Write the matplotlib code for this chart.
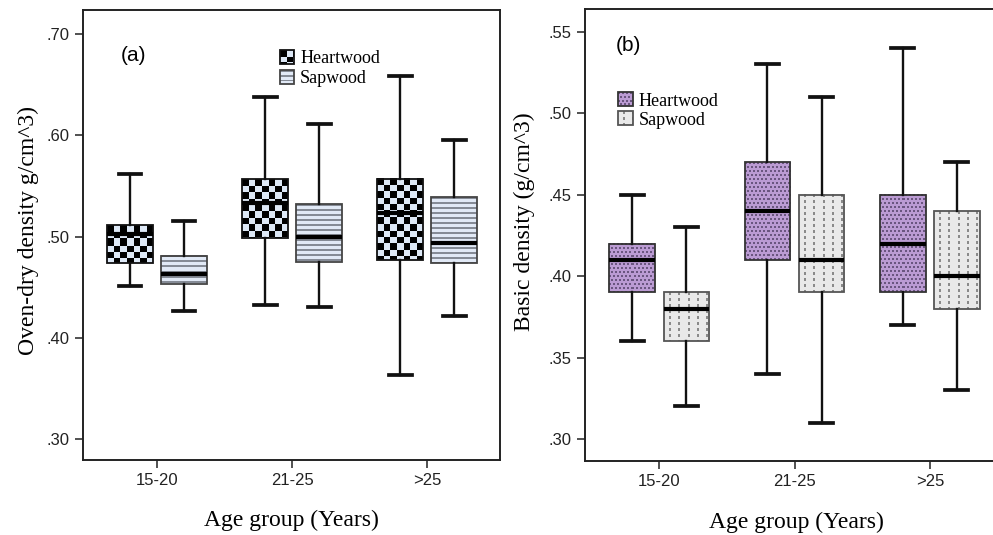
import numpy as np
import matplotlib
matplotlib.use("Agg")
import matplotlib.pyplot as plt
from matplotlib.patches import Rectangle, Patch
from matplotlib.legend_handler import HandlerBase
from matplotlib.colors import to_rgb

# ---------------------------------------------------------------- data
groups = ["15-20", "21-25", ">25"]
series = ["Heartwood", "Sapwood"]

# (a) oven-dry density, g/cm^3
od_heart_whislo = [0.451, 0.432, 0.363]
od_heart_q1 = [0.474, 0.499, 0.477]
od_heart_med = [0.502, 0.533, 0.523]
od_heart_q3 = [0.511, 0.557, 0.557]
od_heart_whishi = [0.562, 0.638, 0.659]

od_sap_whislo = [0.426, 0.430, 0.422]
od_sap_q1 = [0.453, 0.475, 0.474]
od_sap_med = [0.463, 0.500, 0.494]
od_sap_q3 = [0.481, 0.532, 0.539]
od_sap_whishi = [0.515, 0.611, 0.595]

# (b) basic density, g/cm^3
bd_heart_whislo = [0.36, 0.34, 0.37]
bd_heart_q1 = [0.39, 0.41, 0.39]
bd_heart_med = [0.41, 0.44, 0.42]
bd_heart_q3 = [0.42, 0.47, 0.45]
bd_heart_whishi = [0.45, 0.53, 0.54]

bd_sap_whislo = [0.32, 0.31, 0.33]
bd_sap_q1 = [0.36, 0.39, 0.38]
bd_sap_med = [0.38, 0.41, 0.40]
bd_sap_q3 = [0.39, 0.45, 0.44]
bd_sap_whishi = [0.43, 0.51, 0.47]

od_yticks = [0.30, 0.40, 0.50, 0.60, 0.70]
od_yticklabels = [".30", ".40", ".50", ".60", ".70"]
bd_yticks = [0.30, 0.35, 0.40, 0.45, 0.50, 0.55]
bd_yticklabels = [".30", ".35", ".40", ".45", ".50", ".55"]

SERIF = ["Liberation Serif", "DejaVu Serif"]
SANS = ["Liberation Sans", "DejaVu Sans"]
SPINE = "#222222"
TICKTEXT = "#222222"

# ---------------------------------------------------------------- fill textures
TEXTURES = {
    "checker": ("#000000", "#dde8f6"),
    "hstripe": ("#858b96", "#e1e9f6"),
    "purpledots": ("#6b5680", "#bb9bd3"),
    "graydots": ("#8a8a8a", "#e9e9e9"),
}


def texture_mask(kind, w, h):
    yy, xx = np.mgrid[0:h, 0:w]
    if kind == "checker":
        c = 6.4
        return ((np.floor(xx / c) + np.floor(yy / c)) % 2) == 0
    if kind == "hstripe":
        return (yy % 5) < 2
    if kind == "purpledots":
        row = yy // 4
        return ((yy % 4) < 2) & (((xx + 2 * (row % 2)) % 4) < 2)
    if kind == "graydots":
        return (((xx - 5) % 9) < 2) & ((yy % 6) < 3)
    return np.zeros((h, w), bool)


def texture_rgb(kind, w, h):
    dark, light = TEXTURES[kind]
    m = texture_mask(kind, w, h)
    return np.where(m[..., None], np.array(to_rgb(dark)), np.array(to_rgb(light)))


class TextureHandler(HandlerBase):
    """Legend swatch filled with the same texture as the boxes."""

    def __init__(self, kind, edge):
        super().__init__()
        self.kind = kind
        self.edge = edge

    def create_artists(self, legend, orig_handle, xdescent, ydescent,
                       width, height, fontsize, trans):
        side = min(width, height)
        x0 = -xdescent + (width - side) / 2
        y0 = -ydescent + (height - side) / 2
        n = 15
        u = side / n
        dark, light = TEXTURES[self.kind]
        arts = [Rectangle((x0, y0), side, side, facecolor=light,
                          edgecolor="none", transform=trans)]
        m = texture_mask(self.kind, n, n)
        for i in range(n):
            for j in range(n):
                if m[i, j]:
                    arts.append(Rectangle((x0 + j * u, y0 + side - (i + 1) * u),
                                          u, u, facecolor=dark, edgecolor="none",
                                          linewidth=0, transform=trans))
        arts.append(Rectangle((x0, y0), side, side, facecolor="none",
                              edgecolor=self.edge, linewidth=1.3, transform=trans))
        return arts


def stats_list(lo, q1, med, q3, hi):
    return [dict(whislo=a, q1=b, med=c, q3=d, whishi=e, fliers=[])
            for a, b, c, d, e in zip(lo, q1, med, q3, hi)]


def draw_boxes(ax, stats, positions, width, kind, edge):
    ax.bxp(stats, positions=positions, widths=width, capwidths=0.17,
           patch_artist=True, showfliers=False, manage_ticks=False,
           boxprops=dict(facecolor="none", edgecolor=edge, linewidth=1.3, zorder=3),
           medianprops=dict(color="black", linewidth=3.0, solid_capstyle="butt", zorder=4),
           whiskerprops=dict(color="#111111", linewidth=1.7, zorder=3),
           capprops=dict(color="#111111", linewidth=2.7, zorder=3))
    for s, p in zip(stats, positions):
        x0, x1 = p - width / 2, p + width / 2
        y0, y1 = s["q1"], s["q3"]
        d0 = ax.transData.transform((x0, y0))
        d1 = ax.transData.transform((x1, y1))
        w = max(1, int(round(abs(d1[0] - d0[0]))))
        h = max(1, int(round(abs(d1[1] - d0[1]))))
        ax.imshow(texture_rgb(kind, w, h), extent=(x0, x1, y0, y1), origin="upper",
                  interpolation="nearest", aspect="auto", zorder=2)


def style_axes(ax, yticks, yticklabels):
    ax.set_xticks([1, 2, 3])
    ax.set_xticklabels(groups, fontfamily=SANS, fontsize=12, color=TICKTEXT)
    ax.set_yticks(yticks)
    ax.set_yticklabels(yticklabels, fontfamily=SANS, fontsize=12, color=TICKTEXT)
    ax.tick_params(axis="both", direction="out", length=6, width=1.1,
                   color=SPINE, pad=3.5, top=False, right=False)
    for sp in ax.spines.values():
        sp.set_color(SPINE)
        sp.set_linewidth(1.4)


fig = plt.figure(figsize=(9.93, 5.35), dpi=100)
fig.patch.set_facecolor("white")

x = np.arange(1, len(groups) + 1)
off = 0.2
bw = 0.335
XLIM = (0.452, 3.54)

# ---------------------------------------------------------------- panel (a)
ax1 = fig.add_axes([83 / 993, 75 / 535, 417 / 993, 450 / 535])
ax1.set_xlim(*XLIM)
ax1.set_ylim(0.2793, 0.7237)
style_axes(ax1, od_yticks, od_yticklabels)
draw_boxes(ax1, stats_list(od_heart_whislo, od_heart_q1, od_heart_med, od_heart_q3, od_heart_whishi),
           x - off, bw, "checker", "#111111")
draw_boxes(ax1, stats_list(od_sap_whislo, od_sap_q1, od_sap_med, od_sap_q3, od_sap_whishi),
           x + off, bw, "hstripe", "#444444")
ax1.set_xlim(*XLIM)
ax1.set_ylim(0.2793, 0.7237)
ax1.set_xlabel("Age group (Years)", fontfamily=SERIF, fontsize=17)
ax1.xaxis.set_label_coords(0.5, -0.135)
ax1.xaxis.label.set_verticalalignment("center")
ax1.set_ylabel("Oven-dry density g/cm^3)", fontfamily=SERIF, fontsize=17)
ax1.yaxis.set_label_coords(-0.132, 0.511)
ax1.yaxis.label.set_verticalalignment("center")
ax1.text(0.12, 0.898, "(a)", transform=ax1.transAxes, ha="center", va="center",
         fontfamily=SANS, fontsize=15)
h1, s1 = Patch(label=series[0]), Patch(label=series[1])
ax1.legend(handles=[h1, s1], loc="upper left", bbox_to_anchor=(0.472, 0.911),
           frameon=False, prop=dict(family=SERIF, size=13),
           handlelength=0.83, handleheight=0.83, handletextpad=0.3,
           labelspacing=0.15, borderpad=0, borderaxespad=0,
           handler_map={h1: TextureHandler("checker", "#111111"),
                        s1: TextureHandler("hstripe", "#444444")})

# ---------------------------------------------------------------- panel (b)
ax2 = fig.add_axes([585 / 993, 74 / 535, 418 / 993, 452 / 535])
ax2.set_xlim(*XLIM)
ax2.set_ylim(0.2865, 0.564)
style_axes(ax2, bd_yticks, bd_yticklabels)
draw_boxes(ax2, stats_list(bd_heart_whislo, bd_heart_q1, bd_heart_med, bd_heart_q3, bd_heart_whishi),
           x - off, bw, "purpledots", "#333333")
draw_boxes(ax2, stats_list(bd_sap_whislo, bd_sap_q1, bd_sap_med, bd_sap_q3, bd_sap_whishi),
           x + off, bw, "graydots", "#555555")
ax2.set_xlim(*XLIM)
ax2.set_ylim(0.2865, 0.564)
ax2.set_xlabel("Age group (Years)", fontfamily=SERIF, fontsize=17)
ax2.xaxis.set_label_coords(0.505, -0.135)
ax2.xaxis.label.set_verticalalignment("center")
ax2.set_ylabel("Basic density (g/cm^3)", fontfamily=SERIF, fontsize=17)
ax2.yaxis.set_label_coords(-0.146, 0.529)
ax2.yaxis.label.set_verticalalignment("center")
ax2.text(0.105, 0.919, "(b)", transform=ax2.transAxes, ha="center", va="center",
         fontfamily=SANS, fontsize=15)
h2, s2 = Patch(label=series[0]), Patch(label=series[1])
ax2.legend(handles=[h2, s2], loc="upper left", bbox_to_anchor=(0.079, 0.816),
           frameon=False, prop=dict(family=SERIF, size=13),
           handlelength=0.83, handleheight=0.83, handletextpad=0.3,
           labelspacing=0.1, borderpad=0, borderaxespad=0,
           handler_map={h2: TextureHandler("purpledots", "#333333"),
                        s2: TextureHandler("graydots", "#555555")})

fig.savefig("out.png", dpi=100)
